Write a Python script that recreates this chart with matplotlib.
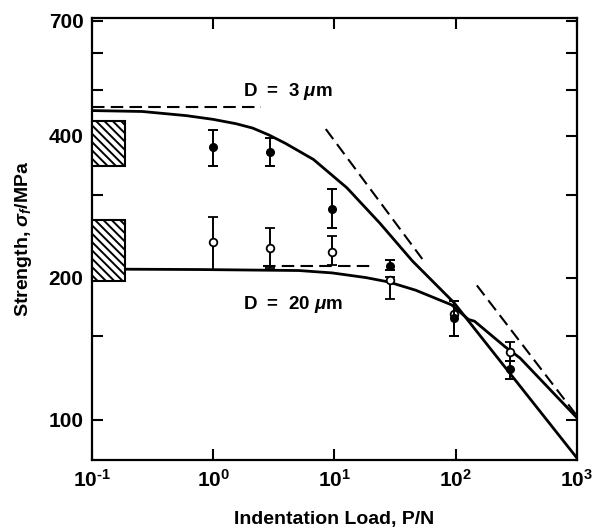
import matplotlib
matplotlib.use("Agg")
import matplotlib.pyplot as plt
from matplotlib.patches import Rectangle
from matplotlib.ticker import FixedLocator, NullLocator, FixedFormatter

plt.rcParams['font.family'] = ['Liberation Sans', 'DejaVu Sans']
plt.rcParams['font.weight'] = 'bold'
plt.rcParams['mathtext.fontset'] = 'custom'
plt.rcParams['mathtext.rm'] = 'Liberation Sans:bold'
plt.rcParams['mathtext.bf'] = 'Liberation Sans:bold'
plt.rcParams['mathtext.it'] = 'Liberation Sans:italic:bold'
plt.rcParams['hatch.linewidth'] = 1.4

# theoretical strength curves, D = 3 um
load_d3 = [0.1, 0.26, 0.6, 1.0, 1.54, 2.12, 2.9, 3.96, 6.73, 12.7, 23.7, 44, 97, 1000]
sigma_d3 = [452, 450, 441, 433, 424, 415, 401, 385, 356, 310, 261, 217, 177, 83]
# asymptotes, D = 3 um
flat_d3_load = [0.1, 2.5]
flat_d3_sigma = [459, 459]
slope_d3_load = [8.5, 53.2]
slope_d3_sigma = [413, 219]

# theoretical strength curve, D = 20 um
load_d20 = [0.1, 0.77, 5.1, 9.6, 18.2, 28.2, 47, 93, 128, 143.6, 257, 341, 1000]
sigma_d20 = [208.5, 208, 207, 204.6, 200, 195.7, 188, 175, 163, 161.6, 142.6, 135, 101]
flat_d20_load = [2.6, 20.5]
flat_d20_sigma = [211.5, 211.5]
slope_d20_load = [150, 1000]
slope_d20_sigma = [192.5, 102]

# measured strengths (filled: D = 3 um, open: D = 20 um)
load_pts = [0.99, 2.97, 9.5, 28.8, 97, 282]
filled_sigma = [379, 369, 279, 212, 164, 128]
filled_lo = [344, 344, 255, 207.5, 150, 122]
filled_hi = [412, 395, 308, 218, 178.5, 133]
open_sigma = [237.6, 231, 226.5, 197.7, 167.5, 139]
open_lo = [208, 210, 212.6, 180, 150, 133]
open_hi = [268.5, 254.5, 245, 200.5, 178.5, 146]

# unindented strength bands
band_load = (0.1, 0.189)
band_d3 = (345, 430)
band_d20 = (197, 265.5)

x_ticks = [0.1, 1, 10, 100, 1000]
x_tick_labels = [r'10$^{\text{-}1}$', r'10$^0$', r'10$^1$', r'10$^2$', r'10$^3$']
y_ticks = [100, 150, 200, 300, 400, 500, 600, 700]
y_tick_labels = ['100', '', '200', '', '400', '', '', '700']

fig = plt.figure(figsize=(5.97, 5.32), dpi=100)
ax = fig.add_axes([0.154, 0.135, 0.812, 0.831])
ax.set_xscale('log')
ax.set_yscale('log')
ax.set_xlim(0.1, 1000)
ax.set_ylim(82, 710)

lw = 2.0
ax.plot(load_d3, sigma_d3, color='black', lw=lw, zorder=3)
ax.plot(load_d20, sigma_d20, color='black', lw=lw, zorder=3)
for xs, ys in [(flat_d3_load, flat_d3_sigma), (slope_d3_load, slope_d3_sigma),
               (flat_d20_load, flat_d20_sigma), (slope_d20_load, slope_d20_sigma)]:
    ax.plot(xs, ys, color='black', lw=1.5, dashes=(6, 3), zorder=3)

def errs(vals, lo, hi):
    return [[v - l for v, l in zip(vals, lo)], [h - v for v, h in zip(vals, hi)]]

ax.errorbar(load_pts, open_sigma, yerr=errs(open_sigma, open_lo, open_hi), fmt='o',
            mfc='white', mec='black', mew=1.3, ms=5.5, color='black', ecolor='black',
            elinewidth=1.4, capsize=3.5, capthick=1.4, zorder=4)
ax.errorbar(load_pts, filled_sigma, yerr=errs(filled_sigma, filled_lo, filled_hi), fmt='o',
            mfc='black', mec='black', ms=5.5, color='black', ecolor='black',
            elinewidth=1.4, capsize=3.5, capthick=1.4, zorder=5)

for lo, hi in [band_d3, band_d20]:
    ax.add_patch(Rectangle((band_load[0], lo), band_load[1] - band_load[0], hi - lo,
                           facecolor='white', edgecolor='black', hatch='\\\\\\\\',
                           lw=1.5, zorder=6, clip_on=False))

ax.text(1.77, 495, r'D  =  3 $\mu$m', fontsize=13.5, fontweight='bold', va='center')
ax.text(1.77, 175, r'D  =  20 $\mu$m', fontsize=13.5, fontweight='bold', va='center')

ax.yaxis.set_major_locator(FixedLocator(y_ticks))
ax.yaxis.set_major_formatter(FixedFormatter(y_tick_labels))
ax.yaxis.set_minor_locator(NullLocator())
ax.xaxis.set_minor_locator(NullLocator())
ax.set_xticks(x_ticks)
ax.set_xticklabels(x_tick_labels)
ax.tick_params(which='major', direction='in', length=8, width=1.5,
               top=True, right=True, labelsize=15, pad=6)

for s in ax.spines.values():
    s.set_linewidth(1.6)

ax.set_xlabel('Indentation Load, P/N', fontsize=14, fontweight='bold')
ax.set_ylabel(r'Strength, $\sigma_f$/MPa', fontsize=14, fontweight='bold')
ax.xaxis.set_label_coords(0.5, -0.115)
ax.yaxis.set_label_coords(-0.12, 0.5)

fig.savefig('out.png', dpi=100)
